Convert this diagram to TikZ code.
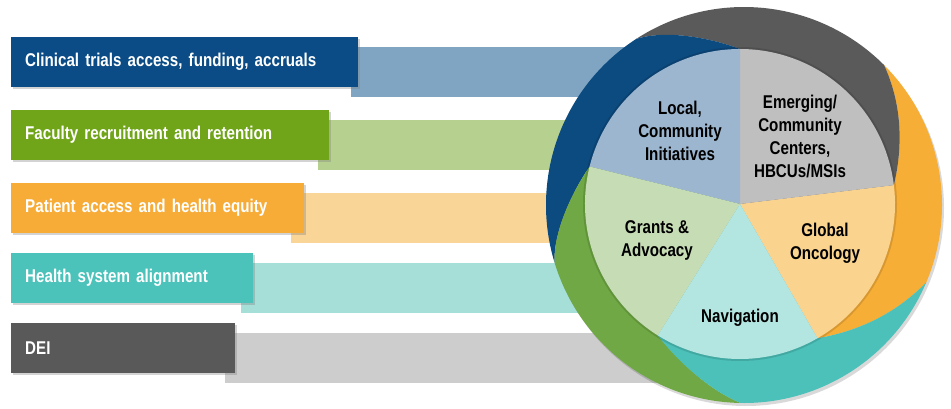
\documentclass[tikz,border=0pt]{standalone}
\usepackage{fontspec}
\setmainfont{Liberation Sans}[FakeStretch=0.82]
\usetikzlibrary{calc,shadows}

% bar colours
\definecolor{trialsdark}{HTML}{0B4C86}
\definecolor{trialslight}{HTML}{7FA5C3}
\definecolor{facultydark}{HTML}{70A419}
\definecolor{facultylight}{HTML}{B6D18F}
\definecolor{patientdark}{HTML}{F7AC37}
\definecolor{patientlight}{HTML}{F9D597}
\definecolor{healthdark}{HTML}{4BC2BA}
\definecolor{healthlight}{HTML}{A5DFD8}
\definecolor{deidark}{HTML}{595959}
\definecolor{deilight}{HTML}{CDCDCD}
% ring and pie colours
\definecolor{ringblue}{HTML}{0C4B80}
\definecolor{ringgray}{HTML}{5A5A5A}
\definecolor{ringorange}{HTML}{F7AE36}
\definecolor{ringteal}{HTML}{4BC1B9}
\definecolor{ringgreen}{HTML}{6FA844}
\definecolor{pieblue}{HTML}{9DB6CF}
\definecolor{piegray}{HTML}{BFBFBF}
\definecolor{pieorange}{HTML}{FAD38F}
\definecolor{pieteal}{HTML}{B3E5E1}
\definecolor{piegreen}{HTML}{C6DCB5}

\tikzset{
    barbox/.style={anchor=west, minimum height=50pt, inner xsep=14pt, align=left,
        text=white, font=\bfseries\fontsize{18.5}{22}\selectfont,
        drop shadow={shadow xshift=2pt, shadow yshift=-2pt, opacity=.35}},
    pielabel/.style={align=center, inner sep=0pt, font=\bfseries\fontsize{18.5}{23}\selectfont},
}

\begin{document}
\begin{tikzpicture}[x=1pt, y=1pt]
            % the frame
            \useasboundingbox (0, 0) rectangle (951, 408);

            % the bars
            \foreach \name/\yc/\tw/\lx/\col/\txt in {
                trials/346/319/351/trials/{Clinical trials access, funding, accruals},
                faculty/273/290/318/faculty/{Faculty recruitment and retention},
                patient/200/265/291/patient/{Patient access and health equity},
                health/130/214/241/health/{Health system alignment},
                dei/60/196/225/dei/{DEI}} {
                \fill[\col light] (\lx, \yc-35) rectangle (700, \yc+15);
                \node[barbox, fill=\col dark, text width=\tw pt] (\name) at (11, \yc) {\txt};
            };

            % the ring
            \coordinate (pc) at (740, 204);
            \coordinate (ec) at (744, 203);
            \foreach \k/\a/\t in {1/90/123, 2/7/45, 3/300/337, 4/238/269, 5/166/197} {
                \coordinate (p\k) at ($(pc)+(\a:155)$);
                \coordinate (ca\k) at ($(pc)+(\a+12:172)$);
                \coordinate (cb\k) at ($(pc)+(\a+24:190)$);
                \coordinate (e\k) at ($(ec)+(\t:198)$);
            };
            \fill[black, opacity=.15] ($(ec)+(2,-3)$) circle[radius=198pt];

            \fill[ringorange] (pc) -- (p3) .. controls (ca3) and (cb3) .. (e3) arc[start angle=-23, end angle=45, radius=198pt] .. controls (cb2) and (ca2) .. (p2) -- cycle;
            \fill[ringgray] (pc) -- (p2) .. controls (ca2) and (cb2) .. (e2) arc[start angle=45, end angle=123, radius=198pt] .. controls (cb1) and (ca1) .. (p1) -- cycle;
            \fill[ringblue] (pc) -- (p1) .. controls (ca1) and (cb1) .. (e1) arc[start angle=123, end angle=197, radius=198pt] .. controls (cb5) and (ca5) .. (p5) -- cycle;
            \fill[ringgreen] (pc) -- (p5) .. controls (ca5) and (cb5) .. (e5) arc[start angle=197, end angle=269, radius=198pt] .. controls (cb4) and (ca4) .. (p4) -- cycle;
            \fill[ringteal] (pc) -- (p4) .. controls (ca4) and (cb4) .. (e4) arc[start angle=269, end angle=337, radius=198pt] .. controls (cb3) and (ca3) .. (p3) -- cycle;

            % the pie
            \fill[black, opacity=.12] (pc) circle[radius=157pt];
            \fill[pieorange] (pc) -- (p3) arc[start angle=-60, end angle=7, radius=155pt] -- cycle;
            \fill[piegray] (pc) -- (p2) arc[start angle=7, end angle=90, radius=155pt] -- cycle;
            \fill[pieblue] (pc) -- (p1) arc[start angle=90, end angle=166, radius=155pt] -- cycle;
            \fill[piegreen] (pc) -- (p5) arc[start angle=166, end angle=238, radius=155pt] -- cycle;
            \fill[pieteal] (pc) -- (p4) arc[start angle=238, end angle=300, radius=155pt] -- cycle;

            % labels
            \node[pielabel] (local) at (680, 277) {Local,\\Community\\Initiatives};
            \node[pielabel] (emerging) at (800, 272) {Emerging/\\Community\\Centers,\\HBCUs/MSIs};
            \node[pielabel] (global) at (825, 165) {Global\\Oncology};
            \node[pielabel] (navigation) at (740, 90) {Navigation};
            \node[pielabel] (grants) at (657, 168) {Grants \&\\Advocacy};

        \end{tikzpicture}
\end{document}
